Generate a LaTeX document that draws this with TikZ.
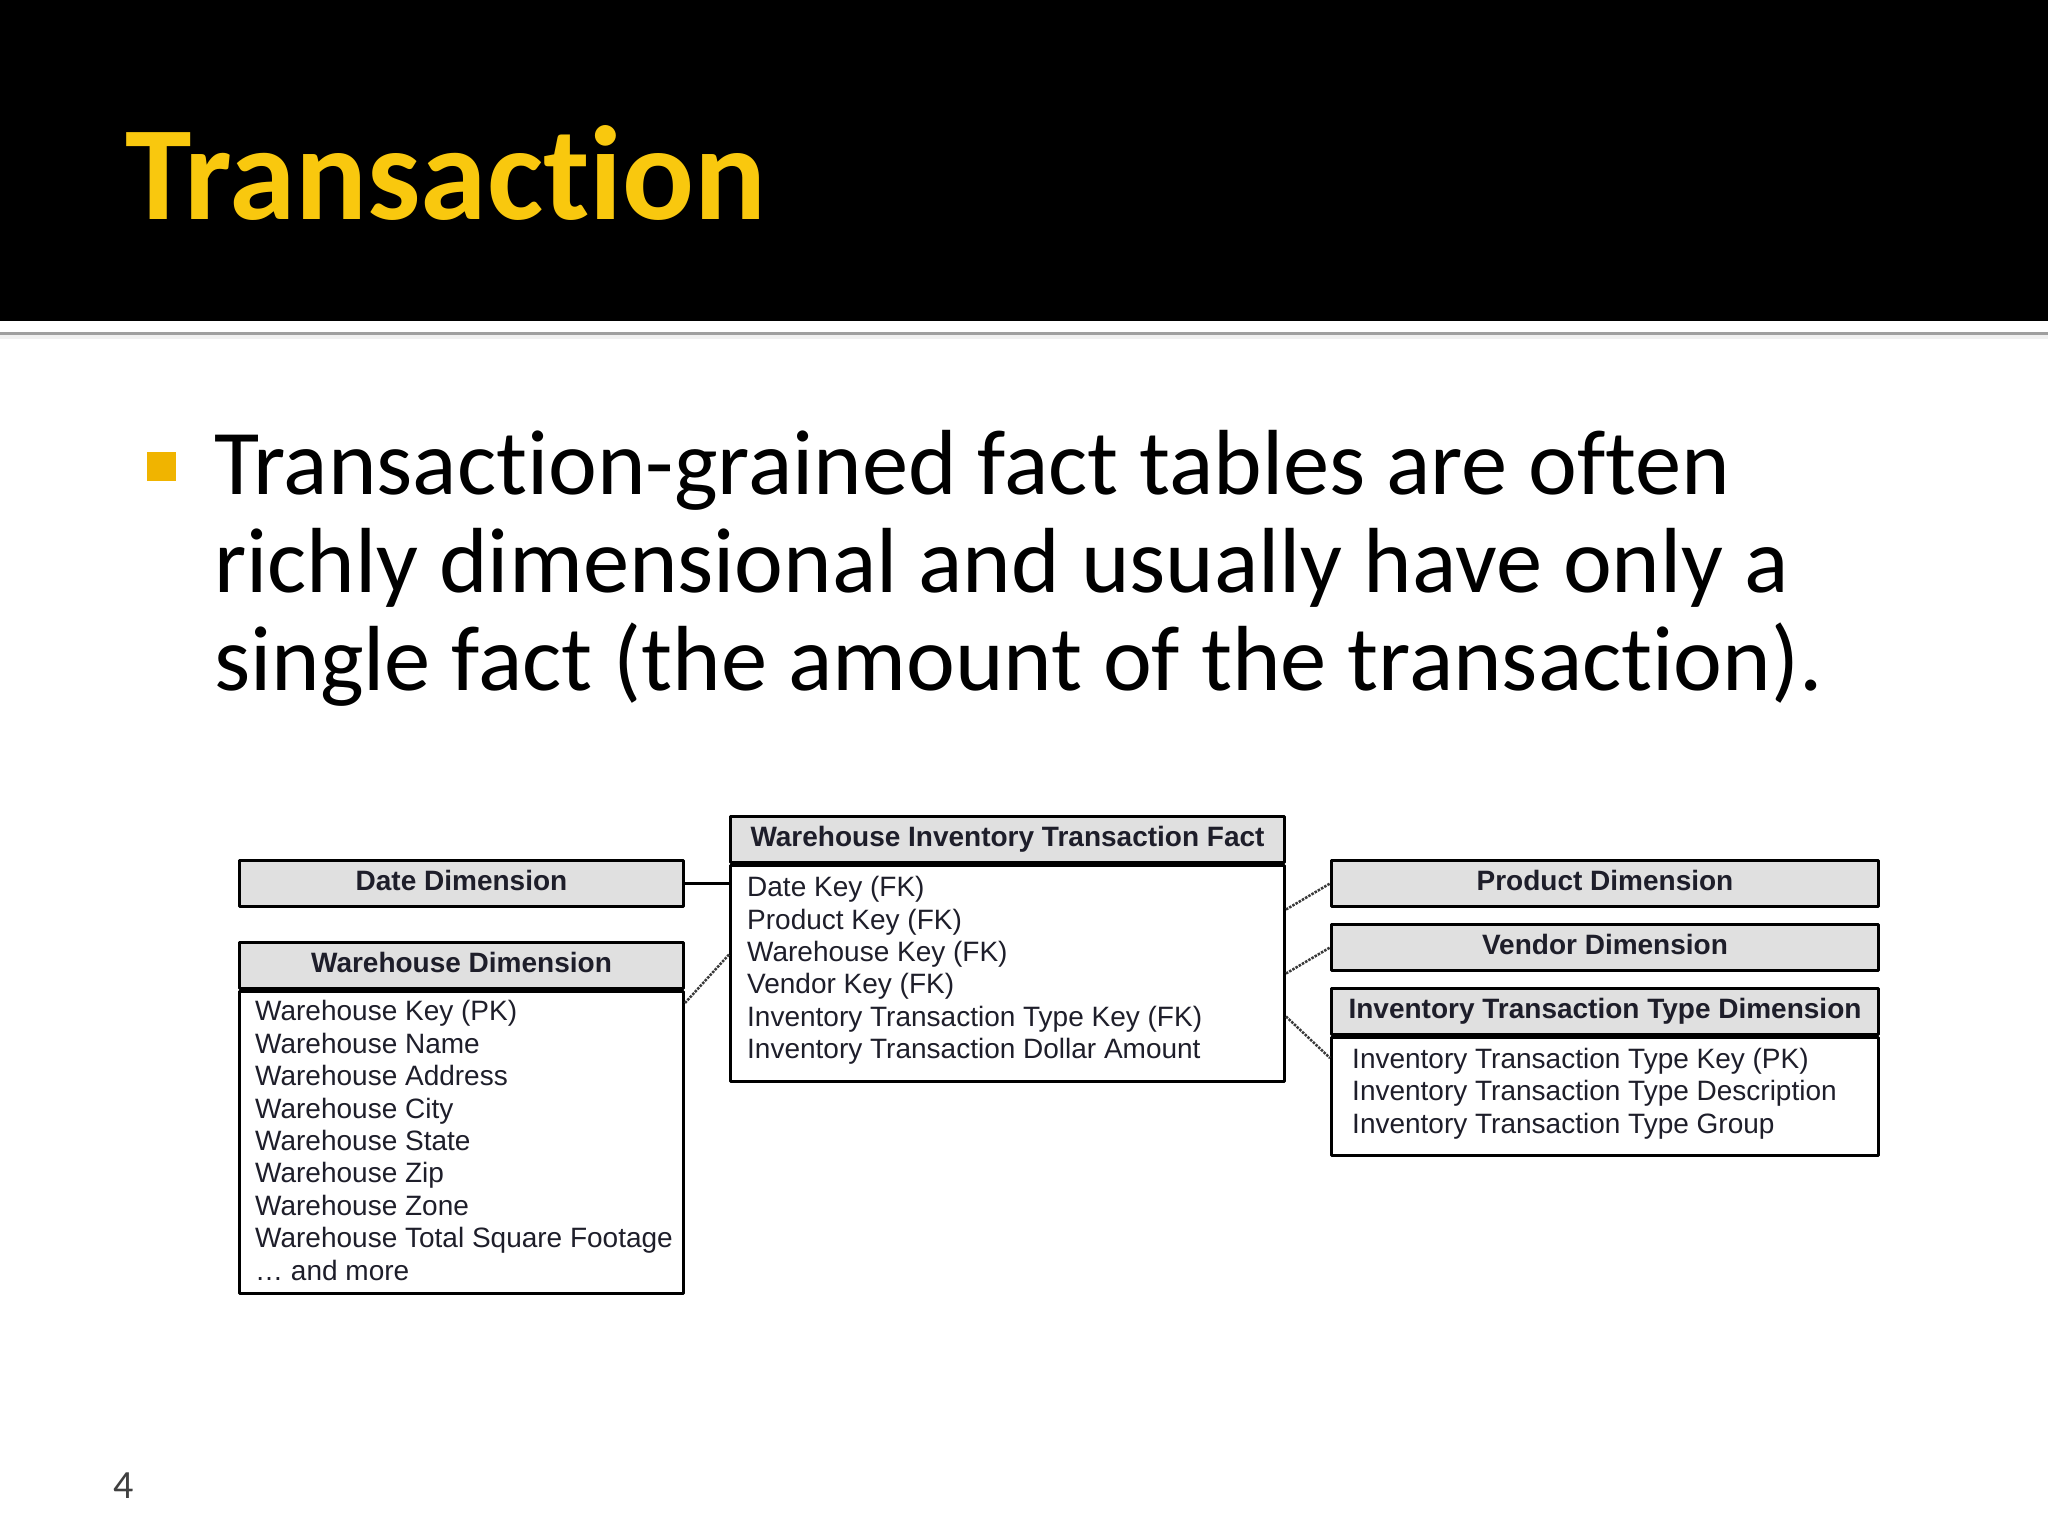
\documentclass[tikz,border=0pt]{standalone}
\usepackage{fontspec}
\setmainfont{Carlito}[Ligatures=NoCommon]
\newfontfamily\tabfont{Liberation Sans}
\usetikzlibrary{positioning}
\definecolor{titleyellow}{HTML}{F9C80E}
\definecolor{bulletgold}{HTML}{F0B400}
\definecolor{headgray}{HTML}{E0E0E0}
\definecolor{ink}{HTML}{1E1E2A}
\tikzset{
  headbox/.style={draw, line width=3pt, fill=headgray, text=ink, inner sep=0pt, minimum height=46pt,
    text height=20pt, text depth=6pt, font=\tabfont\bfseries\fontsize{28}{32}\selectfont, anchor=north west},
  bodybox/.style={draw, line width=3pt, fill=white, inner sep=0pt},
  listtext/.style={text=ink, align=left, inner sep=0pt, anchor=west,
    font=\tabfont\fontsize{28}{32.4}\selectfont},
  bodytext/.style={anchor=base west, inner sep=0pt, font=\fontsize{92.5}{98}\selectfont},
  link/.style={line width=2.5pt, gray!45!black, dash pattern=on 2.5pt off 1.2pt},
}
\begin{document}
\begin{tikzpicture}[x=1pt, y=-1pt, line join=round]
  \useasboundingbox[fill=white] (0,0) rectangle (2048,1536);
  % slide header
  \fill[black] (0,0) rectangle (2048,321);
  \draw[gray!12, line width=4pt] (0,337) -- (2048,337);
  \draw[gray!75, line width=3pt] (0,333) -- (2048,333);
  \node[anchor=base west, inner sep=0pt, text=titleyellow, font=\bfseries\fontsize{134}{134}\selectfont] (title) at (125,219) {Transaction};
  % bullet text
  \fill[bulletgold] (147,452) rectangle (176,481);
  \foreach \ln [count=\i] in {Transaction-grained fact tables are often,
      richly dimensional and usually have only a,
      single fact (the amount of the transaction).}
    \node[bodytext] (line\i) at (214,{396+98*\i}) {\ln};
  % dimension tables, left
  \node[headbox, minimum width=444pt] (date) at (238,859) {Date Dimension};
  \node[headbox, minimum width=444pt] (whead) at (238,941) {Warehouse Dimension};
  \node[bodybox, minimum width=444pt, minimum height=302pt, below=0pt of whead.south west, anchor=north west] (wbody) {};
  \node[listtext] (wlist) at ([xshift=17pt, yshift=2pt]wbody.west) {Warehouse Key (PK)\\Warehouse Name\\Warehouse Address\\Warehouse City\\Warehouse State\\Warehouse Zip\\Warehouse Zone\\Warehouse Total Square Footage\\\dots\ and more};
  % fact table
  \node[headbox, minimum width=554pt] (fhead) at (729,815) {Warehouse Inventory Transaction Fact};
  \node[bodybox, minimum width=554pt, minimum height=216pt, below=0pt of fhead.south west, anchor=north west] (fbody) {};
  \node[listtext] (flist) at ([xshift=18pt, yshift=3pt]fbody.west) {Date Key (FK)\\Product Key (FK)\\Warehouse Key (FK)\\Vendor Key (FK)\\Inventory Transaction Type Key (FK)\\Inventory Transaction Dollar Amount};
  % dimension tables, right
  \node[headbox, minimum width=547pt] (prod) at (1330,859) {Product Dimension};
  \node[headbox, minimum width=547pt] (vend) at (1330,923) {Vendor Dimension};
  \node[headbox, minimum width=547pt] (ihead) at (1330,987) {Inventory Transaction Type Dimension};
  \node[bodybox, minimum width=547pt, minimum height=118pt, below=0pt of ihead.south west, anchor=north west] (ibody) {};
  \node[listtext] (ilist) at ([xshift=22pt, yshift=3pt]ibody.west) {Inventory Transaction Type Key (PK)\\Inventory Transaction Type Description\\Inventory Transaction Type Group};
  % joins
  \draw[line width=3pt] (date.east) -- (date.east -| fbody.west);
  \draw[link] ([yshift=-13pt]wbody.north east) -- ([yshift=19pt]fbody.west);
  \draw[link] ([yshift=64pt]fbody.east) -- (prod.west);
  \draw[link] (fbody.east) -- (vend.west);
  \draw[link] ([yshift=-43pt]fbody.east) -- ([yshift=-22pt]ibody.north west);
  % page number
  \node[anchor=base west, inner sep=0pt, text=black!75, font=\fontsize{40}{40}\selectfont] (pagenum) at (113,1498) {4};
\end{tikzpicture}
\end{document}
